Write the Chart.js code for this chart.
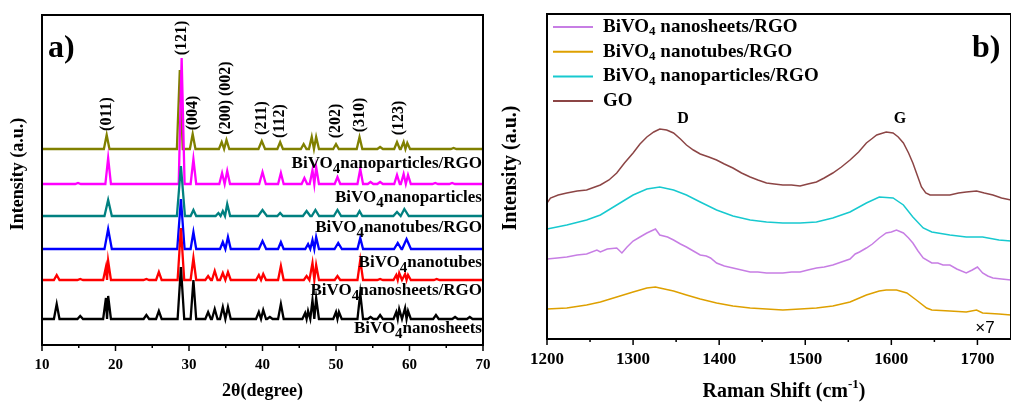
<!DOCTYPE html>
<html>
<head>
<meta charset="utf-8">
<script src="https://cdn.jsdelivr.net/npm/chart.js@4.4.1/dist/chart.umd.min.js"></script>
<style>
  body { margin: 0; background: #fff; width: 1011px; height: 403px; overflow: hidden; position: relative; }
  canvas { position: absolute; top: 0; }
  #xrd { left: 0; }
  #raman { left: 500px; }
</style>
</head>
<body>
<canvas id="xrd" width="500" height="403"></canvas>
<canvas id="raman" width="511" height="403"></canvas>
<script>
const SERIF = "'Times New Roman', 'Liberation Serif', serif";

// ---------- a) XRD, peaks read as [2theta, height, half width] ----------
const xrdRange = [10, 70];
const xrdNames = ["BiVO4nanosheets", "BiVO4nanosheets/RGO", "BiVO4nanotubes",
                  "BiVO4nanotubes/RGO", "BiVO4nanoparticles", "BiVO4nanoparticles/RGO"];
const xrdOffsets = [26, 65, 96, 129, 161, 196];
const xrdLabelY = [12, 50, 78, 113, 143, 177];

const nanosheetsPeaks = [[12.0, 15], [15.2, 3], [18.7, 21], [19.0, 23], [24.2, 4], [25.9, 8],
  [28.9, 52, 0.45], [30.6, 39], [32.6, 7], [33.5, 10], [34.6, 12], [35.3, 12], [39.5, 7],
  [40.1, 9], [41.0, 2], [42.5, 15], [45.8, 6], [46.2, 8], [46.8, 19], [47.3, 21], [50.0, 7],
  [50.4, 7], [53.3, 26], [54.7, 2], [56.0, 4], [58.2, 7], [58.6, 10], [59.4, 11], [59.8, 8],
  [63.6, 4], [66.2, 2], [68.2, 2]];
const nanosheetsRgoPeaks = [[12.0, 5], [15.2, 1], [18.7, 13], [19.0, 19], [24.2, 1], [25.9, 8],
  [28.9, 52, 0.45], [30.6, 22], [32.6, 4], [33.5, 9], [34.6, 7], [35.3, 8], [39.5, 5], [40.1, 6],
  [42.5, 14], [46.0, 4], [46.8, 17], [47.3, 15], [50.2, 4], [53.3, 20], [56.0, 1], [58.2, 5],
  [58.6, 7], [59.4, 6], [59.8, 5], [63.7, 1]];
const nanotubesPeaks = [[19.0, 20, 0.5], [28.9, 50, 0.5], [30.6, 17], [34.6, 7], [35.3, 12],
  [40.0, 8, 0.5], [42.5, 7], [46.2, 5], [46.8, 9], [47.3, 12], [50.3, 6, 0.5], [53.3, 11],
  [58.4, 6, 0.5], [59.6, 10, 0.6]];
const nanotubesRgoPeaks = [[19.0, 16, 0.5], [28.9, 50, 0.55], [30.6, 6], [34.0, 3], [34.6, 5],
  [35.2, 12, 0.4], [40.0, 6, 0.6], [42.4, 3], [46.0, 5, 0.5], [47.2, 6, 0.5], [50.2, 6, 0.5],
  [53.2, 5], [58.3, 4, 0.5], [59.3, 7, 0.6]];
const nanoparticlesPeaks = [[14.9, 1], [19.0, 26], [29.0, 126, 0.4], [30.6, 25], [34.5, 11],
  [35.2, 13], [40.0, 12, 0.45], [42.5, 11], [45.7, 6], [46.8, 14], [47.3, 17], [50.2, 7],
  [53.3, 15], [54.7, 2], [56.0, 2], [58.3, 9], [59.2, 10], [59.8, 9], [63.5, 1], [65.8, 1]];
const nanoparticlesRgoPeaks = [[18.8, 14], [28.75, 79, 0.4], [30.5, 15], [34.45, 7], [35.1, 9],
  [39.9, 8, 0.45], [42.4, 7], [45.6, 5], [46.7, 12], [47.3, 12], [50.0, 5], [53.2, 12], [56.0, 2],
  [58.3, 7], [59.2, 7], [59.7, 6], [66.0, 1]];
const xrdPeaks = [nanosheetsPeaks, nanosheetsRgoPeaks, nanotubesPeaks,
                  nanotubesRgoPeaks, nanoparticlesPeaks, nanoparticlesRgoPeaks];

const hklLabels = ["(011)", "(121)", "(004)", "(200) (002)", "(211)", "(112)", "(202)", "(310)", "(123)"];
const hklTheta = [18.84, 28.97, 30.5, 35.04, 39.93, 42.38, 50.0, 53.27, 58.57];
const hklLevel = [231, 307, 232, 247, 227, 224, 224, 230, 227];

// ---------- b) Raman ----------
const ramanNames = ["BiVO4 nanosheets/RGO", "BiVO4 nanotubes/RGO", "BiVO4 nanoparticles/RGO", "GO"];
const sheetsRgoRaman = [[1200, 80], [1212, 81], [1223, 82], [1235, 84], [1246, 85], [1258, 89],
  [1262, 87], [1270, 90], [1281, 91], [1287, 86], [1293, 92], [1300, 98], [1308, 102], [1316, 106],
  [1326, 110], [1331, 104], [1340, 102], [1347, 99], [1355, 95], [1362, 92], [1370, 88], [1378, 84],
  [1385, 83], [1390, 81], [1397, 76], [1406, 73], [1416, 71], [1426, 69], [1436, 67], [1445, 67],
  [1455, 66], [1464, 66], [1474, 66], [1484, 67], [1494, 67], [1503, 69], [1513, 71], [1522, 72],
  [1532, 74], [1542, 77], [1552, 80], [1558, 85], [1563, 87], [1571, 91], [1578, 95], [1586, 101],
  [1594, 106], [1600, 107], [1606, 109], [1614, 106], [1620, 101], [1625, 96], [1631, 88],
  [1637, 81], [1647, 76], [1654, 76], [1660, 74], [1668, 74], [1676, 70], [1687, 66], [1694, 69],
  [1700, 72], [1706, 66], [1712, 63], [1718, 61], [1728, 60], [1739, 59]];
const tubesRgoRaman = [[1200, 30], [1223, 31], [1246, 34], [1262, 37], [1281, 42], [1300, 47],
  [1316, 51], [1326, 52], [1331, 51], [1347, 48], [1362, 44], [1378, 40], [1397, 36], [1416, 33],
  [1436, 31], [1455, 30], [1474, 29], [1494, 30], [1513, 31], [1532, 33], [1552, 37], [1571, 44],
  [1586, 48], [1594, 49], [1606, 49], [1618, 46], [1629, 39], [1641, 31], [1647, 29], [1668, 28],
  [1687, 27], [1699, 29], [1706, 26], [1725, 25], [1739, 24]];
const particlesRgoRaman = [[1200, 110], [1223, 114], [1246, 119], [1262, 124], [1281, 134],
  [1300, 144], [1316, 150], [1331, 152], [1347, 149], [1362, 144], [1378, 137], [1397, 129],
  [1416, 123], [1436, 119], [1455, 117], [1474, 116], [1494, 116], [1513, 117], [1532, 121],
  [1552, 127], [1571, 136], [1586, 142], [1602, 141], [1614, 134], [1625, 122], [1637, 111],
  [1647, 107], [1668, 104], [1687, 102], [1706, 102], [1725, 99], [1739, 98]];
const goRaman = [[1200, 136], [1204, 141], [1213, 144], [1223, 146], [1235, 148], [1246, 149],
  [1262, 154], [1272, 159], [1281, 166], [1290, 176], [1300, 186], [1308, 195], [1316, 202],
  [1324, 207], [1331, 210], [1339, 209], [1347, 206], [1355, 200], [1362, 194], [1370, 189],
  [1378, 185], [1388, 182], [1397, 179], [1406, 175], [1416, 171], [1426, 166], [1436, 162],
  [1445, 159], [1455, 156], [1464, 155], [1474, 154], [1484, 154], [1494, 153], [1503, 155],
  [1513, 157], [1522, 161], [1532, 166], [1542, 172], [1552, 179], [1562, 187], [1571, 196],
  [1577, 200], [1583, 204], [1594, 207], [1602, 206], [1608, 202], [1614, 196], [1620, 186],
  [1625, 176], [1630, 164], [1635, 152], [1640, 146], [1645, 144], [1656, 144], [1668, 144],
  [1678, 146], [1687, 147], [1699, 148], [1708, 146], [1718, 144], [1728, 141], [1739, 139]];
const ramanSeries = [sheetsRgoRaman, tubesRgoRaman, particlesRgoRaman, goRaman];

const xrdColors = ["#000000", "#ff0000", "#0000ff", "#008080", "#ff00ff", "#808000"];
const ramanColors = ["#c77ee4", "#dea000", "#17c9cf", "#8c4545"];

// peak list -> line points on a flat baseline
function xrdTrace(peaks, offset) {
  const pts = [{ x: xrdRange[0], y: offset }];
  peaks.forEach((p, i) => {
    const w = p[2] || 0.38;
    const prev = i > 0 ? peaks[i - 1][0] : xrdRange[0];
    const next = i < peaks.length - 1 ? peaks[i + 1][0] : xrdRange[1];
    pts.push({ x: Math.max(p[0] - w, (p[0] + prev) / 2), y: offset });
    pts.push({ x: p[0], y: offset + p[1] });
    pts.push({ x: Math.min(p[0] + w, (p[0] + next) / 2), y: offset });
  });
  pts.push({ x: xrdRange[1], y: offset });
  return pts;
}

function bold(size) { return "bold " + size + "px " + SERIF; }

// draws text pieces [text, font, dy] one after another
function drawParts(ctx, parts, x, y, align) {
  let w = 0;
  parts.forEach(p => { ctx.font = p[1]; w += ctx.measureText(p[0]).width; });
  let cx = align === "right" ? x - w : align === "center" ? x - w / 2 : x;
  ctx.textAlign = "left";
  parts.forEach(p => {
    ctx.font = p[1];
    ctx.fillText(p[0], cx, y + (p[2] || 0));
    cx += ctx.measureText(p[0]).width;
  });
}

// "BiVO4..." with the 4 as subscript
function bivo(name, size, subSize, subDy) {
  if (name.indexOf("BiVO4") !== 0) return [[name, bold(size)]];
  return [["BiVO", bold(size)], ["4", bold(subSize), subDy], [name.slice(5), bold(size)]];
}

function frameAndTicks(ctx, a, x, step, from, to, minor) {
  ctx.strokeStyle = "#000";
  ctx.lineWidth = 2;
  ctx.strokeRect(a.left, a.top, a.right - a.left, a.bottom - a.top);
  ctx.lineWidth = 1.5;
  for (let v = from; v <= to; v += step / 2) {
    const px = x.getPixelForValue(v);
    if (px > a.right + 1) break;
    ctx.beginPath();
    ctx.moveTo(px, a.bottom);
    ctx.lineTo(px, a.bottom + ((v - from) % step ? minor : 6));
    ctx.stroke();
  }
}

const xrdDecor = {
  id: "xrdDecor",
  afterDraw(chart) {
    const { ctx, chartArea: a, scales: { x, y } } = chart;
    ctx.save();
    frameAndTicks(ctx, a, x, 10, 10, 70, 3);
    ctx.fillStyle = "#000";
    ctx.textBaseline = "alphabetic";
    xrdNames.forEach((n, i) => {
      drawParts(ctx, bivo(n, 17, 15, 5), x.getPixelForValue(69.86), y.getPixelForValue(xrdLabelY[i]), "right");
    });
    ctx.font = bold(16);
    ctx.textAlign = "center";
    ctx.textBaseline = "middle";
    hklLabels.forEach((t, i) => {
      ctx.save();
      ctx.translate(x.getPixelForValue(hklTheta[i]), y.getPixelForValue(hklLevel[i]));
      ctx.rotate(-Math.PI / 2);
      ctx.fillText(t, 0, 0);
      ctx.restore();
    });
    ctx.font = bold(18);
    ctx.fillText("2\u03b8(degree)", (a.left + a.right) / 2, 391);
    ctx.save();
    ctx.translate(18, 174);
    ctx.rotate(-Math.PI / 2);
    ctx.fillText("Intensity (a.u.)", 0, 0);
    ctx.restore();
    ctx.textAlign = "left";
    ctx.textBaseline = "alphabetic";
    ctx.font = bold(32);
    ctx.fillText("a)", 48, 57);
    ctx.restore();
  }
};

const ramanDecor = {
  id: "ramanDecor",
  afterDraw(chart) {
    const { ctx, chartArea: a, scales: { x } } = chart;
    ctx.save();
    frameAndTicks(ctx, a, x, 100, 1200, 1750, 3);
    ctx.fillStyle = "#000";
    ctx.textBaseline = "middle";
    ramanNames.forEach((n, i) => {
      const ly = a.top + 13 + i * 24.7;
      ctx.strokeStyle = ramanColors[i];
      ctx.lineWidth = 2;
      ctx.beginPath();
      ctx.moveTo(a.left + 6, ly);
      ctx.lineTo(a.left + 46, ly);
      ctx.stroke();
      drawParts(ctx, bivo(n, 19, 13, 5), a.left + 56, ly, "left");
    });
    ctx.textBaseline = "alphabetic";
    ctx.font = bold(16);
    ctx.textAlign = "center";
    ctx.fillText("D", 183, 123);
    ctx.fillText("G", 400, 123);
    ctx.font = "17px 'Liberation Sans', Arial, sans-serif";
    ctx.textBaseline = "middle";
    ctx.fillText("\u00d77", 485, 328);
    ctx.font = bold(20);
    ctx.save();
    ctx.translate(11, 168);
    ctx.rotate(-Math.PI / 2);
    ctx.fillText("Intensity (a.u.)", 0, 0);
    ctx.restore();
    drawParts(ctx, [["Raman Shift (cm", bold(20)], ["-1", bold(13), -7], [")", bold(20)]], 284, 392, "center");
    ctx.textBaseline = "alphabetic";
    ctx.font = bold(32);
    ctx.fillText("b)", 472, 57);
    ctx.restore();
  }
};

const tickFont = size => ({ family: SERIF, size: size, weight: "bold" });

new Chart(document.getElementById("xrd"), {
  type: "line",
  data: {
    datasets: xrdNames.map((n, i) => ({
      label: n,
      data: xrdTrace(xrdPeaks[i], xrdOffsets[i]),
      borderColor: xrdColors[i],
      borderWidth: 2.3,
      pointRadius: 0,
      tension: 0
    }))
  },
  options: {
    responsive: false,
    animation: false,
    devicePixelRatio: 1,
    layout: { padding: { left: 42, top: 15, right: 17, bottom: 0 } },
    plugins: { legend: { display: false }, tooltip: { enabled: false } },
    scales: {
      x: {
        type: "linear", min: 10, max: 70,
        grid: { display: false, drawTicks: true, tickLength: 8 },
        border: { display: false },
        ticks: { stepSize: 10, padding: 3, color: "#000", maxRotation: 0, autoSkip: false,
                 font: tickFont(15), callback: v => String(v) },
        afterFit: s => { s.height = 58; }
      },
      y: { display: false, min: 0, max: 330 }
    }
  },
  plugins: [xrdDecor]
});

new Chart(document.getElementById("raman"), {
  type: "line",
  data: {
    datasets: ramanNames.map((n, i) => ({
      label: n,
      data: ramanSeries[i].map(p => ({ x: p[0], y: p[1] })),
      borderColor: ramanColors[i],
      borderWidth: 1.5,
      pointRadius: 0,
      tension: 0
    }))
  },
  options: {
    responsive: false,
    animation: false,
    devicePixelRatio: 1,
    layout: { padding: { left: 47, top: 14, right: 0, bottom: 0 } },
    plugins: { legend: { display: false }, tooltip: { enabled: false } },
    scales: {
      x: {
        type: "linear", min: 1200, max: 1739,
        grid: { display: false, drawTicks: true, tickLength: 8 },
        border: { display: false },
        ticks: { stepSize: 100, includeBounds: false, padding: 2, color: "#000", maxRotation: 0,
                 autoSkip: false, font: tickFont(17), callback: v => String(v) },
        afterFit: s => { s.height = 64; }
      },
      y: { display: false, min: 0, max: 325 }
    }
  },
  plugins: [ramanDecor]
});
</script>
</body>
</html>
